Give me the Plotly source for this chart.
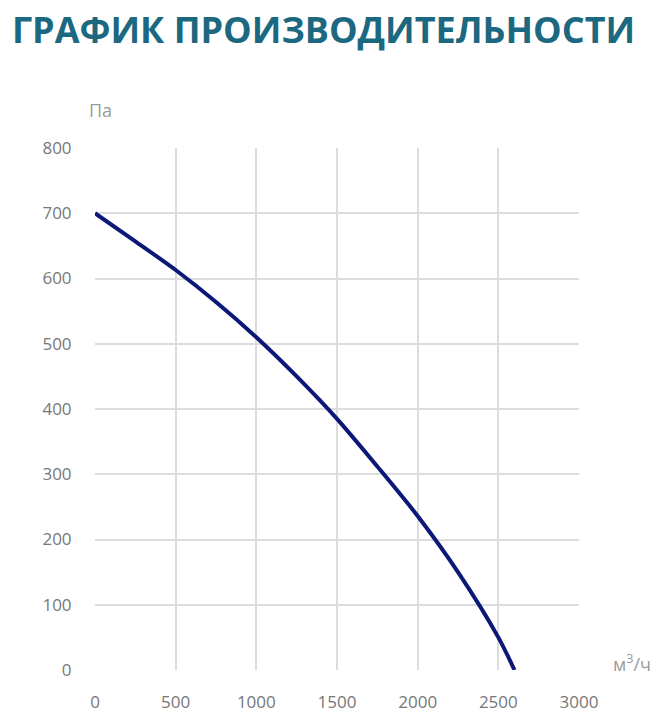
import plotly.graph_objects as go

# расход воздуха, м3/ч и давление, Па
flow = [0, 250, 500, 750, 1000, 1250, 1500, 1750, 2000, 2250, 2500, 2600]
pressure = [700, 657, 613, 564, 510, 450, 385, 312, 236, 150, 50, 0]

x_ticks = [0, 500, 1000, 1500, 2000, 2500, 3000]
y_ticks = [0, 100, 200, 300, 400, 500, 600, 700, 800]

grey = "#777777"
grid = "#dcdcdc"

fig = go.Figure()

fig.add_trace(go.Scatter(
    x=flow,
    y=pressure,
    mode="lines",
    line=dict(color="#0c1878", width=4, shape="spline", smoothing=0.8),
    hoverinfo="x+y"
))

# страница имеет отступ 8px, поэтому фигура чуть меньше окна
fig.update_layout(
    width=650,
    height=707,
    margin=dict(l=87, r=79, t=140, b=45, autoexpand=False),
    paper_bgcolor="white",
    plot_bgcolor="white",
    showlegend=False,
    font=dict(family="Open Sans", color=grey, size=17),
    title=dict(
        text="<b>ГРАФИК ПРОИЗВОДИТЕЛЬНОСТИ</b>",
        font=dict(family="Open Sans", size=36, color="#1c6880"),
        x=0.006, xanchor="left",
        y=0.968, yanchor="middle"
    ),
    xaxis=dict(
        range=[0, 3000],
        tickvals=x_ticks,
        showgrid=True, gridcolor=grid, gridwidth=1.8,
        zeroline=False, showline=False,
        ticks="outside", ticklen=17, tickcolor="rgba(0,0,0,0)",
        fixedrange=True
    ),
    yaxis=dict(
        range=[0, 800],
        tickvals=y_ticks,
        showgrid=True, gridcolor=grid, gridwidth=1.8,
        zeroline=False, showline=False,
        ticks="outside", ticklen=19, tickcolor="rgba(0,0,0,0)",
        fixedrange=True
    ),
    annotations=[
        dict(text="Па", xref="paper", yref="paper", x=0.012, y=1.073,
             xanchor="center", yanchor="middle", showarrow=False,
             font=dict(size=18, color="#9a9a9a")),
        dict(text="м<sup>3</sup>/ч", xref="paper", yref="paper", x=1.11, y=0.013,
             xanchor="center", yanchor="middle", showarrow=False,
             font=dict(size=18, color="#9a9a9a")),
    ]
)

fig.write_html("out.html")
